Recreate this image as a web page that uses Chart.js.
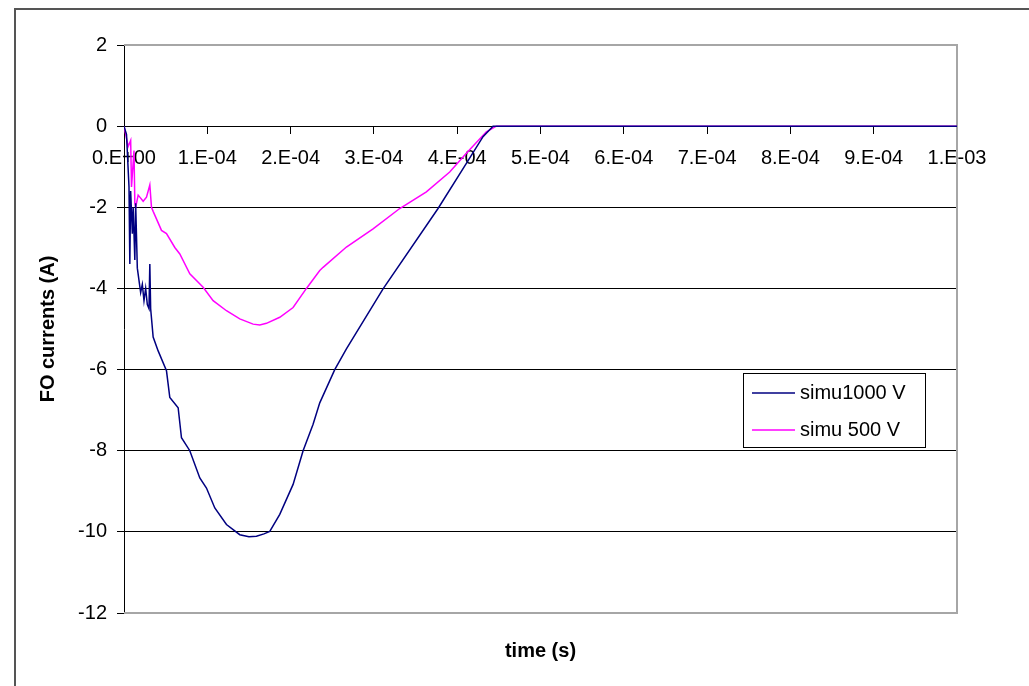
<!DOCTYPE html>
<html>
<head>
<meta charset="utf-8">
<script src="https://cdn.jsdelivr.net/npm/chart.js@4/dist/chart.umd.min.js"></script>
<style>
  body { margin: 0; background: #fff; }
  #wrap { position: relative; width: 1029px; height: 686px; overflow: hidden; }
  #frame { position: absolute; left: 14px; top: 8px; width: 1100px; height: 800px; border: 2px solid #555; }
  #chart { position: absolute; left: 0; top: 0; }
</style>
</head>
<body>
<div id="wrap">
  <div id="frame"></div>
  <canvas id="chart" width="1029" height="686"></canvas>
</div>
<script>
// time in microseconds, current in A
const simu1000Time = [0, 3, 6, 7, 8, 10, 11, 13, 14, 16, 18, 20, 22, 24, 26, 28, 30, 31, 32, 35, 41, 51, 55, 65, 69, 79, 91, 99, 109, 123, 139, 150, 159, 168, 175, 187, 203, 215, 227, 235, 253, 267, 311, 377, 411, 431, 443, 500, 600, 700, 800, 900, 1000];
const simu1000Current = [0, -0.2, -1.5, -3.4, -1.6, -2.65, -2.0, -3.3, -1.9, -3.5, -3.8, -4.1, -3.9, -4.3, -4.0, -4.4, -4.5, -3.4, -4.5, -5.2, -5.54, -6.03, -6.69, -6.94, -7.68, -8.0, -8.67, -8.92, -9.41, -9.82, -10.07, -10.12, -10.11, -10.05, -9.99, -9.57, -8.83, -8.0, -7.35, -6.82, -6.0, -5.49, -4.01, -2.03, -0.92, -0.26, 0, 0, 0, 0, 0, 0, 0];

const simu500Time = [0, 5, 8, 9, 12, 13, 14, 17, 19, 23, 27, 31, 33, 35, 45, 51, 61, 67, 79, 95, 107, 123, 139, 155, 163, 171, 187, 203, 219, 235, 239, 267, 299, 331, 363, 391, 411, 435, 447, 500, 600, 700, 800, 900, 1000];
const simu500Current = [0, -0.5, -0.35, -1.5, -0.6, -1.9, -2.0, -1.7, -1.75, -1.85, -1.75, -1.45, -2.0, -2.1, -2.57, -2.65, -2.99, -3.15, -3.64, -3.97, -4.3, -4.55, -4.75, -4.88, -4.9, -4.86, -4.71, -4.47, -4.0, -3.56, -3.48, -2.98, -2.53, -2.03, -1.62, -1.13, -0.67, -0.14, 0, 0, 0, 0, 0, 0, 0];

const seriesLabels = ["simu1000 V", "simu 500 V"];
const seriesColors = ["#000080", "#ff00ff"];

const xTickLabels = ["0.E+00", "1.E-04", "2.E-04", "3.E-04", "4.E-04", "5.E-04", "6.E-04", "7.E-04", "8.E-04", "9.E-04", "1.E-03"];
const xStep = 1e-4;

function toPoints(times, values) {
  return times.map((t, i) => ({ x: t / 1e6, y: values[i] }));
}

const FONT = "'Liberation Sans', Arial, sans-serif";

// grey border on top/right/bottom of the plot area
const plotBorder = {
  id: "plotBorder",
  beforeDatasetsDraw(chart) {
    const { ctx, chartArea: a } = chart;
    ctx.save();
    ctx.strokeStyle = "#a6a6a6";
    ctx.lineWidth = 2;
    ctx.beginPath();
    ctx.moveTo(a.left, a.top);
    ctx.lineTo(a.right, a.top);
    ctx.lineTo(a.right, a.bottom);
    ctx.lineTo(a.left, a.bottom);
    ctx.stroke();
    ctx.restore();
  }
};

// excel style legend box
const boxLegend = {
  id: "boxLegend",
  afterDraw(chart) {
    const { ctx } = chart;
    const x = 743, y = 373, w = 182, h = 74;
    ctx.save();
    ctx.fillStyle = "#fff";
    ctx.fillRect(x, y, w, h);
    ctx.strokeStyle = "#000";
    ctx.lineWidth = 1;
    ctx.strokeRect(x + 0.5, y + 0.5, w, h);
    ctx.font = "20px " + FONT;
    ctx.textBaseline = "middle";
    chart.data.datasets.forEach((ds, i) => {
      const ly = y + 20 + i * 37;
      ctx.strokeStyle = ds.borderColor;
      ctx.lineWidth = 1.5;
      ctx.beginPath();
      ctx.moveTo(x + 9, ly);
      ctx.lineTo(x + 52, ly);
      ctx.stroke();
      ctx.fillStyle = "#000";
      ctx.fillText(ds.label, x + 57, ly);
    });
    ctx.restore();
  }
};

new Chart(document.getElementById("chart"), {
  type: "scatter",
  data: {
    datasets: [
      {
        label: seriesLabels[0],
        data: toPoints(simu1000Time, simu1000Current),
        borderColor: seriesColors[0],
        backgroundColor: seriesColors[0],
        showLine: true,
        borderWidth: 1.5,
        pointRadius: 0
      },
      {
        label: seriesLabels[1],
        data: toPoints(simu500Time, simu500Current),
        borderColor: seriesColors[1],
        backgroundColor: seriesColors[1],
        showLine: true,
        borderWidth: 1.5,
        pointRadius: 0
      }
    ]
  },
  options: {
    responsive: false,
    animation: false,
    layout: { padding: { top: 45, right: 72, bottom: 0, left: 0 } },
    plugins: {
      legend: { display: false },
      tooltip: { enabled: false }
    },
    scales: {
      x: {
        type: "linear",
        position: { y: 0 },
        min: 0,
        max: 1e-3,
        ticks: {
          stepSize: xStep,
          maxRotation: 0,
          autoSkip: false,
          padding: 13,
          color: "#000",
          font: { family: FONT, size: 20 },
          callback: (v) => xTickLabels[Math.round(v / xStep)]
        },
        grid: { drawOnChartArea: false, drawTicks: true, tickLength: 7, color: "#000" },
        border: { color: "#000", width: 1 }
      },
      xb: {
        type: "linear",
        position: "bottom",
        min: 0,
        max: 1,
        ticks: { display: false },
        grid: { display: false, drawTicks: false },
        border: { display: false },
        title: {
          display: true,
          text: "time (s)",
          color: "#000",
          font: { family: FONT, size: 20, weight: "bold" },
          padding: { top: 26, bottom: 23 }
        },
        afterFit: (s) => { s.height = 73; }
      },
      y: {
        min: -12,
        max: 2,
        ticks: {
          stepSize: 2,
          padding: 10,
          color: "#000",
          font: { family: FONT, size: 20 }
        },
        grid: { color: "#000", tickLength: 7, lineWidth: 1 },
        border: { color: "#000", width: 1 },
        title: {
          display: true,
          text: "FO currents (A)",
          color: "#000",
          font: { family: FONT, size: 20, weight: "bold" },
          padding: { top: 36, bottom: 0 }
        },
        afterFit: (s) => { s.width = 124; }
      }
    }
  },
  plugins: [plotBorder, boxLegend]
});
</script>
</body>
</html>
